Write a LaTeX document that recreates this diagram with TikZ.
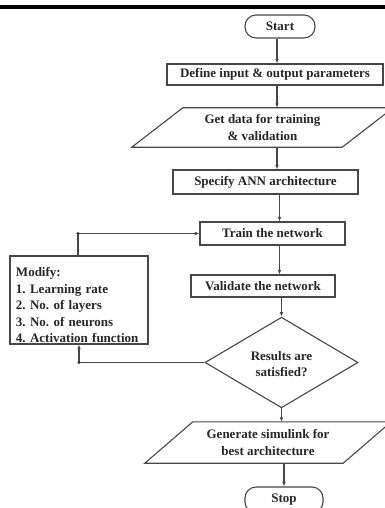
\documentclass[tikz,border=0pt]{standalone}
\usepackage{fontspec}
\setmainfont{Liberation Serif}
\usetikzlibrary{shapes.geometric,arrows.meta,calc}
\frenchspacing
\begin{document}
\begin{tikzpicture}[x=1pt,y=-1pt,
  txt/.style={font=\bfseries\fontsize{13}{16.5}\selectfont, text=black!85},
  ln/.style={draw=black!72, line width=1.1pt},
  arr/.style={ln, -{Latex[length=4.5pt,width=3.6pt]}},
  boxst/.style={txt, ln, rectangle, inner sep=0pt, align=center},
  term/.style={txt, ln, rectangle, rounded corners=11pt, inner sep=0pt},
  ghost/.style={txt, rectangle, inner sep=0pt, align=center},
  dec/.style={txt, ln, diamond, inner sep=0pt, align=center},
  dot/.style={fill=black!80}
]
\useasboundingbox (0,0) rectangle (385,508);
\clip (0,0) rectangle (385,508);
\fill[white] (0,0) rectangle (385,508);
% top rule
\fill[black] (0,5) rectangle (385,9.5);

% nodes
\node[term, minimum width=70pt, minimum height=23pt] (start) at (280,26.5) {Start};
\node[boxst, minimum width=216pt, minimum height=21pt] (define) at (275,74.5) {Define input \& output parameters};
\node[ghost, minimum width=210pt, minimum height=39pt] (getdata) at (262.5,127.5) {Get data for training\\\& validation};
\draw[ln] ($(getdata.south west)+(-25.5,0)$) -- ($(getdata.north west)+(25.5,0)$)
  -- ($(getdata.north east)+(25.5,0)$) -- ($(getdata.south east)+(-25.5,0)$) -- cycle;
\node[boxst, minimum width=185pt, minimum height=24pt] (specify) at (265.5,182) {Specify ANN architecture};
\node[boxst, minimum width=145pt, minimum height=23pt] (train) at (272.5,233.5) {Train the network};
\node[boxst, minimum width=144pt, minimum height=22pt] (validate) at (263,286) {Validate the network};
\node[dec, minimum width=153pt, minimum height=69pt] (result) at (281.5,362.5) {\\[-4pt]Results are\\satisfied?};
\node[txt, ln, rectangle, minimum width=138pt, minimum height=88pt, text width=126pt, inner xsep=6pt, inner ysep=0pt, align=left] (modify) at (79,300)
  {\rule{0pt}{20pt}Modify:\\1. Learning rate\\2. No. of layers\\3. No. of neurons\\4. Activation function};
\node[ghost, minimum width=198pt, minimum height=41pt] (gen) at (268,442.5) {Generate simulink for\\best architecture};
\draw[ln] ($(gen.south west)+(-24,0)$) -- ($(gen.north west)+(24,0)$)
  -- ($(gen.north east)+(24,0)$) -- ($(gen.south east)+(-24,0)$) -- cycle;
\node[term, minimum width=78pt, minimum height=26pt] (stop) at (284,500) {Stop};

% axis coordinates
\coordinate (axA) at (277,0);
\coordinate (axB) at (279.5,0);
\coordinate (lbot) at (79,364);
\coordinate (ltop) at (78,233.5);

% connectors
\draw[arr] (start.south -| axA) -- (define.north -| axA);
\draw[arr] (define.south -| axA) -- ($(getdata.north -| axA)$);
\draw[arr] ($(getdata.south -| axA)$) -- (specify.north -| axA);
\draw[arr] (specify.south -| axB) -- (train.north -| axB);
\draw[arr] (train.south -| axB) -- (validate.north -| axB);
\draw[arr] (validate.south -| result.north) -- (result.north);
\draw[arr] (result.south) -- (result.south |- gen.north);
\draw[arr] (gen.south -| stop.north) -- (stop.north);
\draw[ln] (result.west) -- (result.west -| lbot);
\draw[arr] (result.west -| lbot) -- (modify.south -| lbot);
\draw[ln] (modify.north -| ltop) -- (ltop);
\draw[arr] (ltop) -- (train.west);
\fill[dot] (result.west -| lbot) circle (1.7);
\fill[dot] (ltop) circle (1.7);
\end{tikzpicture}
\end{document}
